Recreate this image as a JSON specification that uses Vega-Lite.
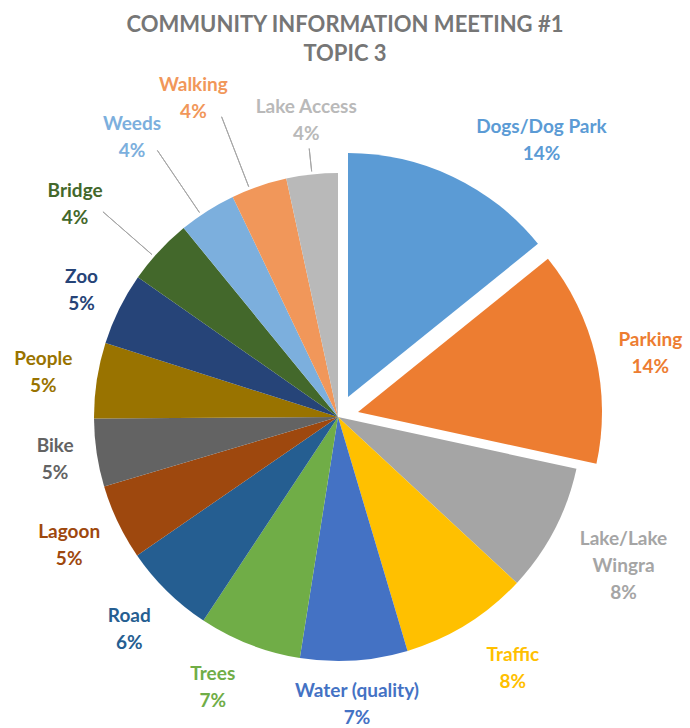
{
  "$schema": "https://vega.github.io/schema/vega-lite/v6.json",
  "width": 676,
  "height": 622,
  "autosize": {"type": "none"},
  "padding": {"top": 106, "left": 0, "right": 14, "bottom": 0},
  "background": "white",
  "title": {
    "text": ["COMMUNITY INFORMATION MEETING #1", "TOPIC 3"],
    "font": "Lato",
    "fontSize": 22,
    "fontWeight": "bold",
    "color": "#767676",
    "anchor": "middle",
    "frame": "group",
    "dx": 7,
    "offset": 10,
    "lineHeight": 29
  },
  "data": {
    "values": [
      {"rank": 1, "name": "Dogs/Dog Park", "value": 14.2, "label": "Dogs/Dog Park\n14%"},
      {"rank": 2, "name": "Parking", "value": 14.2, "label": "Parking\n14%"},
      {"rank": 3, "name": "Lake/Lake Wingra", "value": 8.5, "label": "Lake/Lake\nWingra\n8%"},
      {"rank": 4, "name": "Traffic", "value": 8.5, "label": "Traffic\n8%"},
      {"rank": 5, "name": "Water (quality)", "value": 7.1, "label": "Water (quality)\n7%"},
      {"rank": 6, "name": "Trees", "value": 6.8, "label": "Trees\n7%"},
      {"rank": 7, "name": "Road", "value": 6.1, "label": "Road\n6%"},
      {"rank": 8, "name": "Lagoon", "value": 5.0, "label": "Lagoon\n5%"},
      {"rank": 9, "name": "Bike", "value": 4.5, "label": "Bike\n5%"},
      {"rank": 10, "name": "People", "value": 5.0, "label": "People\n5%"},
      {"rank": 11, "name": "Zoo", "value": 4.8, "label": "Zoo\n5%"},
      {"rank": 12, "name": "Bridge", "value": 4.4, "label": "Bridge\n4%"},
      {"rank": 13, "name": "Weeds", "value": 3.8, "label": "Weeds\n4%"},
      {"rank": 14, "name": "Walking", "value": 3.7, "label": "Walking\n4%"},
      {"rank": 15, "name": "Lake Access", "value": 3.4, "label": "Lake Access\n4%"}
    ]
  },
  "transform": [
    {"stack": "value", "groupby": [], "sort": [{"field": "rank", "order": "ascending"}], "as": ["v0", "v1"]}
  ],
  "layer": [
    {
      "mark": {
        "type": "arc",
        "radius": 244,
        "xOffset": {"expr": "datum.name == 'Dogs/Dog Park' ? 10 : datum.name == 'Parking' ? 20 : 0"},
        "yOffset": {"expr": "datum.name == 'Dogs/Dog Park' ? -20 : datum.name == 'Parking' ? -5 : 0"}
      },
      "encoding": {
        "theta": {"field": "v0", "type": "quantitative", "scale": {"domain": [0, 100]}},
        "theta2": {"field": "v1"},
        "color": {
          "field": "name",
          "type": "nominal",
          "scale": {
            "domain": ["Dogs/Dog Park", "Parking", "Lake/Lake Wingra", "Traffic", "Water (quality)", "Trees", "Road", "Lagoon", "Bike", "People", "Zoo", "Bridge", "Weeds", "Walking", "Lake Access"],
            "range": ["#5B9BD5", "#ED7D31", "#A5A5A5", "#FFC000", "#4472C4", "#70AD47", "#255E91", "#9E480E", "#636363", "#997300", "#264478", "#43682B", "#7CAFDD", "#F1975A", "#B9B9B9"]
          },
          "legend": null
        }
      }
    },
    {
      "transform": [{"filter": {"field": "name", "oneOf": ["Bridge", "Weeds", "Walking", "Lake Access"]}}],
      "mark": {
        "type": "arc",
        "radius": {"expr": "datum.name == 'Lake Access' ? 270 : datum.name == 'Bridge' ? 312 : 322"},
        "radius2": 247,
        "padAngle": 1.2,
        "thetaOffset": {"expr": "datum.name == 'Walking' ? -0.08 : datum.name == 'Lake Access' ? 0 : -0.06"},
        "fillOpacity": 0,
        "stroke": "#A6A6A6",
        "strokeWidth": 1
      },
      "encoding": {
        "theta": {"field": "v0", "type": "quantitative"},
        "theta2": {"field": "v1"}
      }
    },
    {
      "mark": {
        "type": "text",
        "font": "Lato",
        "fontWeight": "bold",
        "fontSize": 19,
        "lineBreak": "\n",
        "lineHeight": 27,
        "align": "center",
        "baseline": "middle",
        "radius": {"expr": "datum.name == 'Dogs/Dog Park' ? 307 : datum.name == 'Parking' ? 321 : datum.name == 'Lake/Lake Wingra' ? 322 : datum.name == 'Water (quality)' ? 288 : (datum.name == 'Bike' || datum.name == 'Zoo') ? 286 : datum.name == 'Bridge' ? 338 : datum.name == 'Weeds' ? 347 : datum.name == 'Walking' ? 350 : datum.name == 'Traffic' ? 306 : 298"},
        "thetaOffset": {"expr": "datum.name == 'Bridge' ? -0.068 : datum.name == 'Weeds' ? -0.07 : datum.name == 'Walking' ? -0.096 : datum.name == 'Trees' ? 0.063 : datum.name == 'Traffic' ? -0.052 : 0"},
        "dx": {"expr": "datum.name == 'Dogs/Dog Park' ? 71 : 0"},
        "dy": {"expr": "datum.name == 'Lake/Lake Wingra' ? -27 : datum.name == 'Parking' ? -3.5 : -13.5"}
      },
      "encoding": {
        "theta": {"field": "value", "type": "quantitative", "stack": true},
        "order": {"field": "rank", "type": "quantitative"},
        "text": {"field": "label"},
        "color": {"field": "name", "type": "nominal", "legend": null}
      }
    }
  ]
}
